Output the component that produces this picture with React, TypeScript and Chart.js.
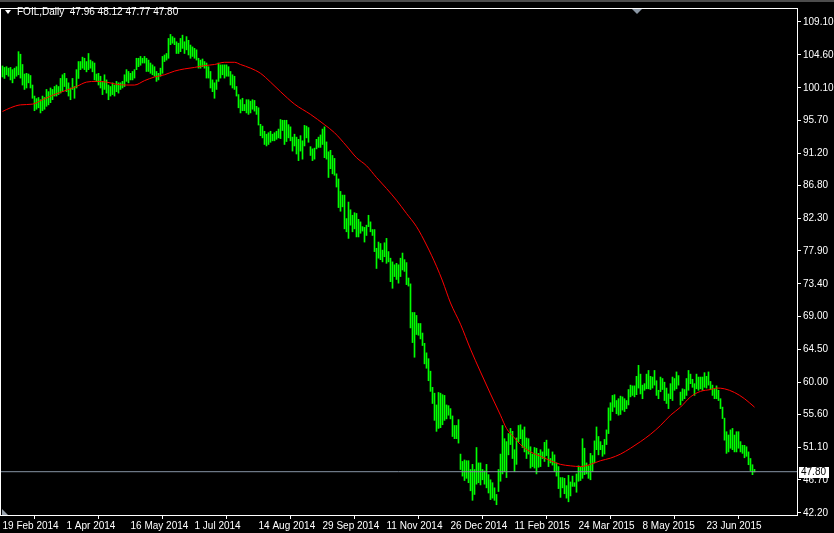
import React, { useEffect, useRef } from "react";
import { Chart, registerables } from "chart.js";

Chart.register(...registerables);

const SYMBOL = "FOIL,Daily";
const LAST_OHLC = [47.96, 48.12, 47.77, 47.8];

// Daily bar highs (bar index 0 = 19 Feb 2014)
const highs = [
  103.1, 102.9, 103.0, 102.8, 102.9, 102.6, 102.8, 103.0, 105.05, 104.7,
  103.3, 102.0, 102.1, 102.0, 101.8, 100.5, 99.0, 98.65, 98.8, 98.5,
  99.0, 98.8, 99.9, 99.6, 100.1, 99.9, 100.3, 100.5, 100.3, 101.4,
  101.9, 102.1, 101.4, 100.8, 100.1, 101.4, 100.3, 102.6, 103.7, 103.7,
  104.3, 104.15, 103.7, 104.8, 103.9, 103.7, 103.5, 102.0, 102.1, 101.7,
  101.0, 101.9, 101.2, 100.5, 100.3, 100.8, 100.5, 101.0, 100.8, 100.8,
  101.0, 101.9, 102.6, 102.35, 102.1, 102.35, 102.6, 104.15, 104.15, 104.4,
  104.15, 104.4, 104.15, 103.9, 103.5, 103.25, 103.0, 102.35, 102.1, 102.8,
  104.4, 104.6, 104.8, 106.85, 107.4, 107.1, 106.9, 106.4, 106.2, 106.85,
  107.3, 106.4, 107.1, 106.6, 105.95, 105.7, 105.5, 105.3, 104.15, 103.9,
  104.05, 103.7, 103.5, 103.0, 102.35, 101.2, 100.8, 101.2, 103.5, 103.25,
  103.25, 103.25, 103.25, 103.0, 102.35, 101.9, 101.7, 100.3, 99.2, 98.5,
  98.7, 97.85, 98.5, 98.5, 98.3, 98.5, 98.4, 97.6, 97.4, 95.15,
  94.9, 94.2, 93.8, 94.0, 94.2, 93.8, 94.0, 94.2, 94.5, 95.8,
  95.7, 95.7, 95.7, 95.1, 94.8, 93.4, 93.8, 93.4, 93.1, 93.6,
  92.9, 95.0, 94.9, 94.7, 92.1, 91.8, 91.9, 93.1, 93.4, 93.7,
  94.5, 94.8, 92.75, 91.4, 91.6, 90.9, 90.5, 88.4, 87.7, 86.0,
  85.5, 85.5, 82.3, 84.55, 83.5, 82.75, 83.1, 83.0, 82.2, 81.85,
  81.2, 81.1, 81.4, 82.75, 81.85, 80.8, 80.8, 78.25, 79.1, 78.9,
  78.0, 79.0, 79.6, 77.8, 76.9, 76.4, 76.0, 76.2, 76.0, 76.9,
  77.6, 76.7, 76.3, 74.2, 73.4, 69.5, 69.5, 69.1, 68.0, 68.0,
  66.7, 65.3, 64.0, 63.2, 61.5, 59.3, 58.5, 56.9, 58.6, 58.5,
  58.3, 58.2, 56.9, 56.8, 56.4, 55.4, 54.1, 54.1, 54.9, 50.2,
  49.2, 49.4, 49.3, 49.3, 48.1, 48.8, 48.1, 51.1, 49.0, 49.0,
  48.1, 47.9, 48.8, 47.4, 46.7, 46.3, 45.6, 44.7, 48.1, 50.2,
  54.1, 52.3, 51.9, 53.0, 53.7, 53.3, 50.8, 52.4, 54.1, 54.2,
  53.5, 53.9, 52.4, 52.3, 51.2, 50.2, 51.1, 51.0, 50.3, 50.8,
  50.5, 51.8, 52.1, 50.9, 49.6, 50.5, 50.1, 49.0, 48.5, 47.0,
  47.0, 46.9, 45.9, 47.3, 46.4, 47.2, 46.3, 47.5, 48.6, 48.4,
  52.3, 51.0, 49.0, 48.6, 50.3, 50.0, 52.0, 53.9, 52.6, 51.9,
  51.4, 52.2, 53.5, 56.5, 57.2, 58.2, 58.3, 57.5, 57.75, 58.1,
  58.0, 57.75, 57.5, 59.0, 59.6, 59.5, 59.5, 60.8, 62.3, 61.1,
  59.6, 59.8, 61.1, 61.6, 60.8, 60.7, 61.6, 60.2, 58.9, 60.7,
  60.5, 60.0, 59.2, 58.4, 59.8, 60.7, 60.5, 61.4, 60.9, 58.65,
  59.1, 59.0, 60.5, 61.6, 61.1, 60.4, 59.8, 61.1, 60.7, 60.7,
  60.7, 61.3, 60.8, 61.4, 60.1, 59.6, 59.1, 59.5, 58.9, 57.75,
  56.6, 55.1, 53.25, 52.8, 53.5, 53.7, 52.8, 53.25, 53.25, 51.9,
  51.4, 51.4, 51.2, 50.5, 49.6, 48.75, 48.12,
];

// Daily bar lows
const lows = [
  101.6, 101.4, 101.9, 101.7, 101.2, 100.8, 101.4, 101.7, 101.9, 101.45,
  100.5, 99.9, 100.1, 100.8, 100.1, 98.7, 97.0, 97.2, 97.4, 96.7,
  97.0, 97.2, 97.6, 97.8, 98.1, 98.5, 99.0, 99.0, 99.2, 99.4,
  99.6, 100.3, 99.6, 99.0, 98.5, 99.9, 98.7, 100.1, 101.4, 102.6,
  102.8, 102.6, 102.3, 102.6, 102.8, 102.3, 101.2, 101.0, 100.5, 100.1,
  99.2, 99.9, 99.4, 98.5, 99.0, 99.2, 99.0, 99.6, 99.4, 99.9,
  100.1, 100.3, 101.0, 100.8, 101.2, 101.2, 101.45, 102.6, 103.0, 103.2,
  103.5, 103.5, 102.35, 102.35, 102.1, 101.9, 101.7, 101.0, 101.2, 101.7,
  102.1, 103.7, 103.9, 104.15, 106.0, 106.2, 106.0, 104.8, 104.8, 105.05,
  105.5, 104.8, 105.3, 104.6, 104.15, 104.4, 104.15, 103.9, 102.8, 102.8,
  103.0, 102.8, 101.45, 101.45, 100.1, 99.6, 98.7, 99.9, 101.0, 101.45,
  101.9, 101.45, 101.7, 101.7, 100.5, 100.1, 99.9, 99.0, 97.4, 96.7,
  97.0, 97.0, 96.7, 96.5, 96.7, 97.2, 96.95, 96.5, 95.05, 93.6,
  93.3, 92.4, 92.2, 92.4, 92.7, 92.9, 92.9, 93.1, 93.3, 93.2,
  94.3, 92.4, 92.8, 93.3, 92.9, 91.5, 92.2, 91.1, 90.2, 91.5,
  90.4, 92.2, 93.3, 92.7, 90.9, 90.2, 90.4, 91.8, 92.0, 92.0,
  92.4, 90.6, 90.4, 87.9, 89.1, 88.4, 88.2, 86.6, 83.8, 83.3,
  83.9, 80.9, 80.5, 79.6, 81.4, 80.5, 80.9, 79.8, 79.8, 80.3,
  80.6, 79.1, 80.0, 81.2, 80.5, 80.0, 77.8, 75.5, 76.9, 76.7,
  76.4, 77.1, 76.2, 76.4, 73.7, 72.8, 74.4, 74.0, 73.5, 74.4,
  75.3, 75.1, 73.3, 73.1, 67.4, 65.4, 63.4, 66.5, 66.4, 65.9,
  65.0, 62.5, 61.9, 60.2, 58.75, 57.1, 54.8, 53.3, 53.7, 53.8,
  54.2, 54.8, 55.0, 55.5, 55.0, 52.6, 52.3, 52.3, 51.7, 48.1,
  47.2, 46.6, 46.9, 46.3, 45.2, 43.9, 44.7, 46.1, 46.3, 46.0,
  46.7, 46.1, 45.6, 44.9, 44.0, 44.2, 43.9, 43.3, 45.1, 46.5,
  47.5, 47.8, 47.0, 50.1, 51.5, 49.6, 47.8, 48.8, 51.9, 52.3,
  51.1, 50.5, 49.6, 50.2, 48.3, 48.5, 48.3, 47.5, 48.4, 48.5,
  49.6, 49.2, 50.0, 48.5, 49.0, 48.7, 47.8, 47.2, 45.5, 44.3,
  45.6, 44.8, 44.2, 43.7, 44.5, 45.8, 45.8, 45.0, 46.5, 46.6,
  46.9, 47.4, 47.5, 46.9, 46.7, 47.8, 49.0, 50.8, 50.1, 50.8,
  49.9, 50.2, 51.5, 53.0, 54.8, 56.0, 56.6, 55.7, 55.5, 55.6,
  56.2, 56.0, 56.4, 56.9, 58.0, 58.2, 58.0, 58.3, 59.2, 58.4,
  57.75, 58.9, 59.1, 59.1, 59.0, 59.2, 59.6, 58.2, 57.75, 58.7,
  59.0, 57.5, 57.1, 56.4, 57.75, 57.5, 58.9, 59.1, 59.6, 56.9,
  57.5, 57.75, 58.2, 58.9, 59.8, 59.3, 58.2, 59.1, 58.9, 59.1,
  58.9, 59.3, 59.2, 59.6, 59.0, 58.2, 57.75, 57.75, 57.5, 56.4,
  55.05, 52.1, 50.3, 50.5, 51.0, 50.8, 50.5, 50.5, 51.0, 50.5,
  50.3, 49.7, 49.9, 48.75, 47.9, 47.4, 47.77,
];

// Moving average (red) read at these bar indices
const maBars = [
  0, 4, 9, 15, 20, 25, 32, 37, 42, 47, 52, 57, 62, 66, 71, 76, 81, 86, 91, 96,
  101, 106, 111, 116, 119, 124, 129, 134, 139, 146, 154, 161, 166, 172, 177, 182,
  187, 192, 197, 202, 207, 212, 217, 220, 224, 229, 234, 239, 244, 249, 252, 256,
  259, 264, 269, 274, 279, 284, 289, 294, 299, 304, 309, 314, 319, 324, 329, 334,
  339, 344, 349, 354, 357, 361, 366, 371, 376,
];
const maValues = [
  96.9, 97.4, 97.8, 97.9, 98.5, 99.1, 99.8, 100.3, 100.9, 101.0, 100.9, 100.6,
  100.5, 100.5, 101.1, 101.6, 101.9, 102.4, 102.7, 102.9, 103.15, 103.3, 103.6,
  103.6, 103.3, 102.8, 102.1, 100.9, 99.6, 97.9, 96.5, 95.1, 94.0, 92.2, 90.6,
  89.5, 87.9, 86.4, 84.8, 83.0, 81.2, 78.7, 75.8, 73.8, 70.8, 67.9, 64.5, 61.4,
  58.4, 55.5, 53.7, 52.4, 51.5, 50.5, 49.9, 49.3, 48.8, 48.6, 48.5, 48.8, 49.3,
  49.65, 50.2, 51.0, 51.9, 52.9, 54.1, 55.5, 56.6, 58.0, 58.75, 59.0, 59.2, 59.1,
  58.6, 57.75, 56.6,
];

const priceTicks = [
  109.1, 104.6, 100.1, 95.7, 91.2, 86.8, 82.3, 77.9, 73.4, 69.0, 64.5, 60.0,
  55.6, 51.1, 46.7, 42.2,
];
const dateTickBars = [0, 32, 64, 96, 128, 160, 192, 224, 256, 288, 320, 352];
const dateTickLabels = [
  "19 Feb 2014", "1 Apr 2014", "16 May 2014", "1 Jul 2014", "14 Aug 2014",
  "29 Sep 2014", "11 Nov 2014", "26 Dec 2014", "11 Feb 2015", "24 Mar 2015",
  "8 May 2015", "23 Jun 2015",
];

const FONT = '"Liberation Sans", Arial, sans-serif';

export default function App() {
  const canvasRef = useRef<HTMLCanvasElement | null>(null);

  useEffect(() => {
    document.body.style.margin = "0";
    document.body.style.background = "#000";
    const canvas = canvasRef.current;
    if (!canvas) return;

    const decor = {
      id: "decor",
      afterDraw(chart: any) {
        const { ctx, chartArea: a, scales } = chart;
        ctx.save();
        // top strip
        ctx.fillStyle = "#4c4c4c";
        ctx.fillRect(0, 0, chart.width, 2);
        // frame
        ctx.strokeStyle = "#ffffff";
        ctx.lineWidth = 1;
        ctx.strokeRect(a.left + 0.5, a.top + 0.5, a.right - a.left, a.bottom - a.top);
        // shift marker
        ctx.fillStyle = "#8a96a4";
        ctx.beginPath();
        ctx.moveTo(632, a.top + 1);
        ctx.lineTo(642, a.top + 1);
        ctx.lineTo(637, a.top + 6);
        ctx.closePath();
        ctx.fill();
        // bottom-left marker
        ctx.fillStyle = "#9aa3ad";
        ctx.beginPath();
        ctx.moveTo(2, a.bottom - 6);
        ctx.lineTo(2, a.bottom);
        ctx.lineTo(8, a.bottom);
        ctx.closePath();
        ctx.fill();
        // last price label
        const y = scales.y.getPixelForValue(LAST_OHLC[3]);
        ctx.fillStyle = "#ffffff";
        ctx.fillRect(a.right + 2, Math.round(y) - 5, 30, 11);
        ctx.fillStyle = "#000000";
        ctx.font = `10px ${FONT}`;
        ctx.textBaseline = "middle";
        ctx.textAlign = "left";
        ctx.fillText(LAST_OHLC[3].toFixed(2), a.right + 4, Math.round(y) + 0.5);
        ctx.restore();
      },
    };

    const barData = highs.map((h, i) => ({ x: i, y: [lows[i], h] }));
    const maData = maBars.map((b, i) => ({ x: b, y: maValues[i] }));
    const xMin = -1.25;
    const xMax = 397.25;

    const chart = new Chart(canvas, {
      type: "bar",
      data: {
        datasets: [
          {
            type: "line",
            data: maData as any,
            borderColor: "#ff0000",
            borderWidth: 1,
            pointRadius: 0,
            cubicInterpolationMode: "monotone",
            order: 1,
          } as any,
          {
            type: "line",
            data: [
              { x: xMin, y: LAST_OHLC[3] },
              { x: xMax, y: LAST_OHLC[3] },
            ] as any,
            borderColor: "#8795a6",
            borderWidth: 1,
            pointRadius: 0,
            order: 2,
          } as any,
          {
            type: "bar",
            data: barData as any,
            backgroundColor: "#00ff00",
            borderWidth: 0,
            barThickness: 1,
            grouped: false,
            order: 3,
          } as any,
        ],
      },
      options: {
        animation: false,
        responsive: true,
        maintainAspectRatio: false,
        devicePixelRatio: 1,
        events: [],
        layout: { padding: { top: 3, left: 0, right: 0, bottom: 0 } },
        plugins: {
          legend: { display: false },
          tooltip: { enabled: false },
        },
        scales: {
          x: {
            type: "linear",
            offset: false,
            min: xMin,
            max: xMax,
            afterBuildTicks: (scale: any) => {
              scale.ticks = dateTickBars.map((v) => ({ value: v }));
            },
            afterFit: (scale: any) => {
              scale.height = 18;
            },
            ticks: {
              autoSkip: false,
              maxRotation: 0,
              minRotation: 0,
              align: "start",
              padding: 1,
              color: "#ffffff",
              font: { family: FONT, size: 10 },
              callback: (v: any) => {
                const idx = dateTickBars.indexOf(Number(v));
                return idx >= 0 ? dateTickLabels[idx] : "";
              },
            },
            grid: {
              display: true,
              drawOnChartArea: false,
              drawTicks: true,
              tickLength: 4,
              color: "#ffffff",
            },
            border: { display: false },
          },
          y: {
            type: "linear",
            position: "right",
            min: 41.9,
            max: 111.0,
            afterBuildTicks: (scale: any) => {
              scale.ticks = priceTicks.map((v) => ({ value: v }));
            },
            afterFit: (scale: any) => {
              scale.width = 37;
            },
            ticks: {
              autoSkip: false,
              padding: 2,
              color: "#ffffff",
              font: { family: FONT, size: 10 },
              callback: (v: any) => Number(v).toFixed(2),
            },
            grid: {
              display: true,
              drawOnChartArea: false,
              drawTicks: true,
              tickLength: 4,
              color: "#ffffff",
            },
            border: { display: false },
          },
        },
      } as any,
      plugins: [decor],
    });

    return () => chart.destroy();
  }, []);

  return (
    <div style={{ position: "relative", width: 834, height: 533, background: "#000", overflow: "hidden" }}>
      <canvas ref={canvasRef} />
      <div
        style={{
          position: "absolute",
          left: 5,
          top: 10,
          width: 0,
          height: 0,
          borderLeft: "3.5px solid transparent",
          borderRight: "3.5px solid transparent",
          borderTop: "4px solid #ffffff",
        }}
      />
      <div
        style={{
          position: "absolute",
          left: 17,
          top: 6,
          color: "#ffffff",
          font: `10px ${FONT}`,
          lineHeight: "12px",
          whiteSpace: "pre",
        }}
      >
        {`${SYMBOL}  ${LAST_OHLC.map((v) => v.toFixed(2)).join(" ")}`}
      </div>
    </div>
  );
}
